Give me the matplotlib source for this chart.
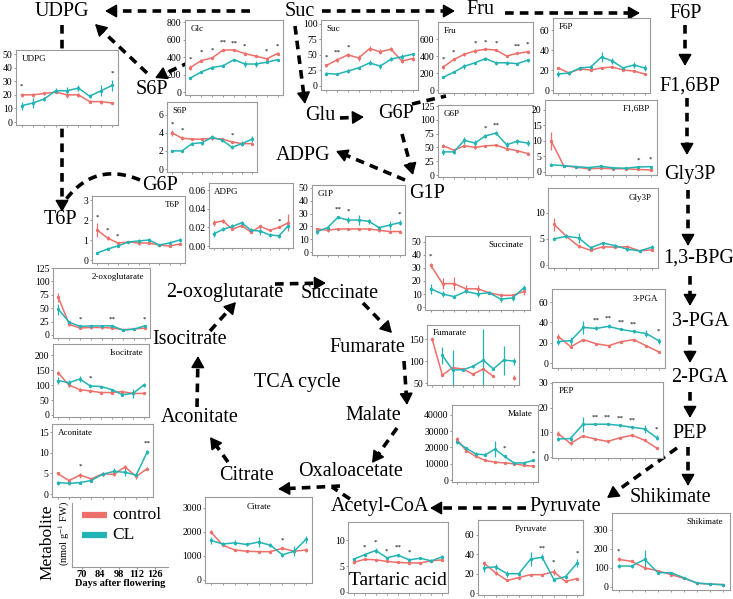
import numpy as np
import matplotlib.pyplot as plt

W, H = 733, 599
RED = '#EE6F6A'
TEAL = '#22B4B4'

plt.rcParams['font.family'] = ['Liberation Serif', 'DejaVu Serif']
plt.rcParams['mathtext.fontset'] = 'stix'

# --- data: 9 sampling dates (70..126 days after flowering), control vs CL ---
days = [70, 77, 84, 91, 98, 105, 112, 119, 126]

udpg_ctrl = [20, 20, 21, 22, 20, 20, 15, 15, 14]
udpg_cl = [12, 14, 17, 23, 23, 25, 19, 23, 27]
udpg_ctrl_err = [1.5, 1.5, 1, 1, 2, 1.5, 1, 1.5, 1]
udpg_cl_err = [3, 4, 1.5, 2, 3, 2, 1.5, 4, 4]
udpg_stars = [(0, '*'), (8, '*')]

glc_ctrl = [280, 360, 390, 480, 480, 440, 410, 380, 440]
glc_cl = [160, 230, 280, 300, 370, 320, 320, 340, 370]
glc_ctrl_err = [25, 20, 15, 15, 10, 15, 10, 10, 15]
glc_cl_err = [15, 15, 20, 15, 10, 30, 30, 10, 10]
glc_stars = [(0, '*'), (1, '*'), (2, '*'), (3, '**'), (4, '**'), (5, '*'), (7, '*'), (8, '*')]

suc_ctrl = [33, 42, 50, 45, 60, 55, 59, 40, 44]
suc_cl = [20, 19, 24, 29, 37, 32, 43, 47, 51]
suc_ctrl_err = [3, 3, 3, 5, 4, 4, 3, 3, 4]
suc_cl_err = [2, 1, 3, 2, 4, 4, 3, 5, 2]
suc_stars = [(0, '*'), (1, '**'), (2, '*')]

fru_ctrl = [270, 360, 420, 460, 480, 470, 400, 430, 450]
fru_cl = [150, 210, 280, 320, 370, 320, 320, 310, 350]
fru_ctrl_err = [25, 20, 15, 25, 10, 10, 15, 10, 15]
fru_cl_err = [10, 10, 30, 15, 15, 25, 20, 10, 15]
fru_stars = [(0, '*'), (1, '*'), (3, '*'), (4, '*'), (5, '*'), (7, '**'), (8, '*')]

f6p_ctrl = [22, 17, 21, 20, 22, 23, 20, 19, 16]
f6p_cl = [16, 17, 22, 23, 33, 29, 22, 25, 22]
f6p_ctrl_err = [1, 1, 1, 1, 1, 1, 1, 1, 1]
f6p_cl_err = [3, 2, 1, 2, 5, 3, 1, 3, 3]

s6p_ctrl = [4.0, 3.4, 3.3, 3.3, 3.4, 3.3, 3.0, 2.8, 2.8]
s6p_cl = [2.0, 2.0, 2.8, 2.9, 3.5, 3.2, 2.4, 2.8, 3.3]
s6p_ctrl_err = [0.3, 0.2, 0.1, 0.1, 0.1, 0.1, 0.1, 0.1, 0.1]
s6p_cl_err = [0.1, 0.1, 0.2, 0.2, 0.3, 0.2, 0.2, 0.3, 0.3]
s6p_stars = [(0, '*'), (1, '*'), (6, '*')]

g6p_ctrl = [53, 45, 53, 50, 53, 54, 48, 44, 39]
g6p_cl = [42, 42, 63, 58, 71, 76, 55, 61, 58]
g6p_ctrl_err = [3, 2, 3, 2, 2, 2, 2, 2, 2]
g6p_cl_err = [5, 4, 6, 5, 3, 3, 4, 5, 6]
g6p_stars = [(4, '*'), (5, '**')]

f16bp_ctrl = [10, 2, 1.5, 1.0, 1.2, 1.0, 1.0, 0.8, 0.6]
f16bp_cl = [2.3, 2.0, 1.7, 1.4, 1.8, 1.3, 1.2, 1.6, 1.7]
f16bp_ctrl_err = [3, 0.3, 0.2, 0.2, 0.2, 0.2, 0.2, 0.2, 0.2]
f16bp_cl_err = [0.5, 0.3, 0.3, 0.3, 0.5, 0.3, 0.2, 0.3, 0.3]
f16bp_stars = [(7, '*'), (8, '*')]

gly3p_ctrl = [7.8, 5.5, 3.6, 2.8, 3.5, 3.4, 3.5, 2.7, 2.9]
gly3p_cl = [5.0, 5.5, 5.2, 3.3, 4.2, 3.7, 3.0, 2.7, 3.4]
gly3p_ctrl_err = [1.2, 0.3, 0.3, 0.2, 0.3, 0.2, 0.3, 0.2, 0.2]
gly3p_cl_err = [0.3, 0.4, 0.9, 0.3, 0.3, 0.3, 0.3, 0.2, 0.5]

t6p_ctrl = [1.5, 1.1, 0.85, 0.9, 0.85, 0.85, 0.75, 0.7, 0.8]
t6p_cl = [0.35, 0.55, 0.7, 0.9, 0.95, 1.0, 0.75, 0.85, 1.0]
t6p_ctrl_err = [0.35, 0.1, 0.05, 0.05, 0.1, 0.05, 0.05, 0.05, 0.05]
t6p_cl_err = [0.05, 0.05, 0.05, 0.05, 0.1, 0.1, 0.05, 0.1, 0.1]
t6p_stars = [(0, '*'), (1, '*'), (2, '*')]

adpg_ctrl = [0.025, 0.027, 0.018, 0.022, 0.015, 0.021, 0.017, 0.020, 0.025]
adpg_cl = [0.013, 0.018, 0.021, 0.025, 0.017, 0.016, 0.012, 0.011, 0.022]
adpg_ctrl_err = [0.003, 0.002, 0.001, 0.001, 0.001, 0.002, 0.001, 0.001, 0.009]
adpg_cl_err = [0.003, 0.002, 0.003, 0.002, 0.002, 0.004, 0.002, 0.002, 0.004]
adpg_stars = [(7, '*')]

g1p_ctrl = [18, 17, 18, 18, 18, 18, 17, 16, 16]
g1p_cl = [16, 19, 27, 25, 25, 24, 19, 21, 23]
g1p_ctrl_err = [1, 1, 1, 1, 1, 1, 1, 1.5, 1]
g1p_cl_err = [2, 1, 1.5, 2, 4, 2, 1.5, 3, 2]
g1p_stars = [(2, '**'), (3, '*'), (8, '*')]

succ_ctrl = [32, 18, 18, 14, 14, 11, 9, 9, 12]
succ_cl = [14, 10, 8, 12, 10, 11, 6, 7, 15]
succ_ctrl_err = [2, 4, 5, 3, 3, 1, 1, 1, 3]
succ_cl_err = [4, 2, 1, 1, 2, 1, 2, 2, 2]
succ_stars = [(0, '*')]

fum_ctrl = [150, 68, 85, 82, 70, 82, 65, np.nan, 62]
fum_cl = [np.nan, 113, 80, 80, 88, 102, 82, 102, 100]
fum_ctrl_err = [2, 2, 3, 2, 2, 2, 2, 0, 6]
fum_cl_err = [0, 20, 45, 3, 3, 70, 3, 33, 8]

pga_ctrl = [26, 16, 23, 19, 17, 21, 23, 17, 11]
pga_cl = [21, 22, 35, 34, 36, 33, 31, 29, 22]
pga_ctrl_err = [3, 1, 1, 1, 1, 1, 1, 1, 1]
pga_cl_err = [3, 4, 6, 2, 2, 1, 1, 3, 3]
pga_stars = [(3, '**'), (4, '**'), (5, '**'), (6, '**'), (8, '*')]

pep_ctrl = [9.5, 5.5, 8.5, 7.3, 6.3, 7.8, 8.8, 6.8, 3.6]
pep_cl = [7.3, 7.5, 13.2, 13.3, 13.3, 12.8, 12.0, 11.4, 7.8]
pep_ctrl_err = [1, 0.5, 0.5, 0.5, 0.5, 0.5, 0.5, 0.5, 0.3]
pep_cl_err = [1, 1, 3, 0.5, 0.5, 0.5, 0.5, 1.5, 1]
pep_stars = [(3, '**'), (4, '**'), (5, '**'), (6, '**'), (8, '*')]

mal_ctrl = [25000, 18000, 14500, 12000, 11000, 10500, 10000, 9000, 8500]
mal_cl = [23500, 19500, 16000, 15500, 19000, 14500, 10500, 10500, 12000]
mal_ctrl_err = [1500, 1000, 500, 500, 500, 500, 500, 500, 500]
mal_cl_err = [1500, 1000, 1000, 1000, 5000, 1000, 500, 500, 500]
mal_stars = [(5, '*'), (8, '*')]

shik_ctrl = [145, 135, 100, 85, 65, 45, 20, 15, 12]
shik_cl = [110, 110, 145, 75, 75, 48, 20, 15, 12]
shik_ctrl_err = [10, 5, 5, 5, 5, 5, 3, 3, 3]
shik_cl_err = [10, 8, 50, 8, 5, 5, 3, 3, 3]
shik_stars = [(0, '*')]

pyr_ctrl = [31, 21, 13, 16, 19, 19, 22, 12, 15]
pyr_cl = [26, 27, 20, 20, 35, 37, 14, 17, 31]
pyr_ctrl_err = [2, 2, 1, 1, 1, 1, 3, 1, 1]
pyr_cl_err = [4, 3, 3, 2, 7, 3, 2, 2, 4]
pyr_stars = [(5, '**'), (6, '*'), (8, '*')]

tar_ctrl = [5.7, 6.3, 6.2, 5.9, 5.7, 5.6, 5.6, 6.0, 6.2]
tar_cl = [6.3, 7.2, 8.0, 6.6, 7.1, 6.2, 6.5, 6.0, 6.8]
tar_ctrl_err = [0.4, 0.2, 0.2, 0.2, 0.2, 0.2, 0.2, 0.2, 0.2]
tar_cl_err = [0.3, 0.3, 0.4, 0.2, 0.3, 0.3, 0.2, 0.3, 0.3]
tar_stars = [(1, '*'), (2, '*'), (3, '*'), (4, '**'), (5, '*')]

cit_ctrl = [2000, 1450, 1250, 1200, 1180, 1180, 1320, 1200, 1250]
cit_cl = [1650, 1500, 1550, 1480, 1580, 1450, 1050, 1200, 1700]
cit_ctrl_err = [100, 50, 50, 50, 50, 50, 50, 50, 100]
cit_cl_err = [150, 100, 100, 80, 200, 80, 80, 200, 150]
cit_stars = [(6, '*')]

oxo_ctrl = [70, 20, 13, 14, 14, 13, 10, 11, 13]
oxo_cl = [48, 24, 16, 17, 17, 17, 9, 11, 17]
oxo_ctrl_err = [8, 3, 2, 2, 2, 2, 1, 1, 2]
oxo_cl_err = [10, 2, 2, 1, 1, 1, 1, 1, 2]
oxo_stars = [(2, '*'), (5, '**'), (8, '*')]

iso_ctrl = [140, 100, 85, 80, 75, 75, 78, 72, 72]
iso_cl = [115, 108, 120, 97, 95, 85, 68, 72, 100]
iso_ctrl_err = [8, 5, 4, 4, 5, 5, 4, 4, 3]
iso_cl_err = [12, 10, 10, 5, 3, 3, 5, 15, 8]
iso_stars = [(3, '*')]

aco_ctrl = [5.0, 3.3, 4.6, 3.7, 4.9, 4.8, 6.6, 4.3, 6.2]
aco_cl = [2.8, 2.6, 2.8, 3.3, 4.8, 5.5, 5.3, 4.6, 10.3]
aco_ctrl_err = [0.4, 0.3, 0.6, 0.3, 0.4, 0.4, 0.5, 0.6, 0.3]
aco_cl_err = [0.5, 0.3, 0.3, 0.3, 0.5, 0.8, 1, 0.5, 0.5]
aco_stars = [(2, '*'), (8, '**')]

legend_days = [70, 84, 98, 112, 126]

fig = plt.figure(figsize=(W / 100, H / 100), dpi=100)
bg = fig.add_axes([0, 0, 1, 1])
bg.set_xlim(0, W)
bg.set_ylim(H, 0)
bg.axis('off')
bg.set_zorder(0)


def px_axes(x0, y0, x1, y1):
    return fig.add_axes([x0 / W, 1 - y1 / H, (x1 - x0) / W, (y1 - y0) / H])


def arrow(x0, y0, x1, y1, head=True):
    dx, dy = x1 - x0, y1 - y0
    n = np.hypot(dx, dy)
    ux, uy = dx / n, dy / n
    xe, ye = (x1 - ux * 6, y1 - uy * 6) if head else (x1, y1)
    bg.plot([x0, xe], [y0, ye], color='k', lw=2.6, ls=(0, (2.4, 1.7)),
            dash_capstyle='butt', solid_capstyle='butt')
    if head:
        bg.annotate('', xy=(x1, y1), xytext=(x1 - ux * 8, y1 - uy * 8),
                    arrowprops=dict(arrowstyle='-|>,head_length=0.7,head_width=0.4',
                                    color='k', lw=1.2, shrinkA=0, shrinkB=0,
                                    mutation_scale=10))


def curve(p0, pc, p1):
    t = np.linspace(0, 1, 40)[:, None]
    pts = (1 - t) ** 2 * np.array(p0) + 2 * (1 - t) * t * np.array(pc) + t ** 2 * np.array(p1)
    bg.plot(pts[:, 0], pts[:, 1], color='k', lw=2.6, ls=(0, (2.4, 1.7)), dash_capstyle='butt')


def panel(box, ctrl, cl, ctrl_err, cl_err, ylim, yticks, title, where='left',
          stars=(), ylabels=None, title_size=6.5):
    ax = px_axes(*box)
    ax.set_zorder(2)
    x = np.arange(len(ctrl))
    for y, e, c in ((ctrl, ctrl_err, RED), (cl, cl_err, TEAL)):
        ax.errorbar(x, y, yerr=e, color=c, lw=1.1, elinewidth=0.9, marker='o',
                    ms=1.4, capsize=0)
    ax.set_xlim(-0.5, len(ctrl) - 0.5)
    ax.set_ylim(ylim)
    ax.set_xticks(x)
    ax.set_xticklabels([])
    ax.set_yticks(yticks)
    if ylabels is not None:
        ax.set_yticklabels(ylabels)
    ax.tick_params(length=1.5, width=0.6, color='#888', labelsize=7, pad=1)
    for s in ax.spines.values():
        s.set_color('#9a9a9a')
        s.set_linewidth(0.8)
    if where == 'left':
        ax.text(0.06, 0.93, title, transform=ax.transAxes, ha='left', va='top', fontsize=title_size)
    elif where == 'right':
        ax.text(0.94, 0.93, title, transform=ax.transAxes, ha='right', va='top', fontsize=title_size)
    elif where == 'center':
        ax.text(0.5, 0.93, title, transform=ax.transAxes, ha='center', va='top', fontsize=title_size)
    else:
        ax.text(0.5, 0.05, title, transform=ax.transAxes, ha='center', va='bottom', fontsize=14)
    span = ylim[1] - ylim[0]
    for i, s in stars:
        top = np.nanmax([ctrl[i] + ctrl_err[i], cl[i] + cl_err[i]])
        ax.text(i, top + 0.05 * span, s, ha='center', va='bottom', fontsize=5)
    return ax


# --- pathway arrows (drawn first, panels cover them) ---
arrow(250, 11, 105, 11)            # Suc -> UDPG
arrow(322, 11, 455, 11)            # Suc -> Fru
arrow(505, 13, 640, 13)            # Fru -> F6P
arrow(685, 25, 685, 66)            # F6P -> F1,6BP
arrow(687, 98, 687, 155)           # F1,6BP -> Gly3P
arrow(688, 190, 688, 246)          # Gly3P -> 1,3-BPG
arrow(690, 276, 690, 306)          # 1,3-BPG -> 3-PGA
arrow(690, 336, 690, 363)          # 3-PGA -> 2-PGA
arrow(690, 392, 690, 418)          # 2-PGA -> PEP
arrow(688, 447, 688, 486)          # PEP -> Shikimate
arrow(677, 448, 607, 498)          # PEP -> Pyruvate
arrow(526, 508, 430, 508)          # Pyruvate -> Acetyl-CoA
arrow(350, 499, 332, 487, head=False)
arrow(340, 486, 278, 489)          # -> Citrate
arrow(397, 428, 372, 463)          # Malate -> Oxaloacetate
arrow(404, 361, 407, 405)          # Fumarate -> Malate
arrow(363, 303, 392, 333)          # Succinate -> Fumarate
arrow(275, 284, 326, 283)          # 2-oxoglutarate -> Succinate
arrow(210, 331, 236, 302)          # Isocitrate -> 2-oxoglutarate
arrow(197, 407, 198, 356)          # Aconitate -> Isocitrate
arrow(228, 462, 210, 437)          # Citrate -> Aconitate
arrow(295, 26, 305, 104)           # Suc -> Glu
arrow(340, 118, 364, 117)          # Glu -> G6P
arrow(412, 104, 446, 96, head=False)
arrow(147, 73, 95, 24)             # S6P -> UDPG
arrow(190, 62, 155, 78)            # -> S6P
arrow(62, 25, 62, 212)             # UDPG -> T6P
curve((140, 180), (92, 160), (62, 205))   # G6P -> T6P
arrow(402, 134, 413, 175)          # G6P -> G1P
arrow(405, 180, 336, 151)          # G1P -> ADPG

# --- pathway labels ---
labels = [
    ('UDPG', 62, 11), ('Suc', 300, 11), ('Fru', 480, 10), ('F6P', 686, 14),
    ('F1,6BP', 690, 86), ('S6P', 152, 90), ('Glu', 320, 115), ('G6P', 396, 114),
    ('ADPG', 303, 155), ('G1P', 427, 193), ('G6P', 160, 185), ('T6P', 60, 220),
    ('Gly3P', 690, 175), ('1,3-BPG', 699, 258), ('3-PGA', 700, 321),
    ('2-PGA', 700, 378), ('PEP', 690, 433), ('Shikimate', 670, 498),
    ('Pyruvate', 565, 507), ('Acetyl-CoA', 380, 506), ('Oxaloacetate', 351, 472),
    ('Citrate', 247, 475), ('Aconitate', 200, 418), ('Isocitrate', 190, 340),
    ('2-oxoglutarate', 225, 292), ('Succinate', 340, 293), ('Fumarate', 367, 347),
    ('TCA cycle', 297, 383), ('Malate', 373, 416),
]
for txt, x, y in labels:
    bg.text(x, y, txt, ha='center', va='center', fontsize=14.5, zorder=3)

# --- metabolite panels (pixel boxes: x0, y0, x1, y1) ---
panel((16, 50, 118, 125), udpg_ctrl, udpg_cl, udpg_ctrl_err, udpg_cl_err, (-2.2, 53),
      [0, 10, 20, 30, 40, 50], 'UDPG', 'left', udpg_stars)
panel((185, 20, 283, 95), glc_ctrl, glc_cl, glc_ctrl_err, glc_cl_err, (-34, 823),
      [0, 200, 400, 600, 800], 'Glc', 'left', glc_stars)
panel((321, 20, 418, 90), suc_ctrl, suc_cl, suc_ctrl_err, suc_cl_err, (-6.5, 106),
      [0, 25, 50, 75, 100], 'Suc', 'left', suc_stars)
panel((438, 22, 533, 93), fru_ctrl, fru_cl, fru_ctrl_err, fru_cl_err, (-35, 800),
      [0, 200, 400, 600], 'Fru', 'left', fru_stars)
panel((553, 18, 650, 93), f6p_ctrl, f6p_cl, f6p_ctrl_err, f6p_cl_err, (-3, 72),
      [0, 20, 40, 60], 'F6P', 'left')
panel((167, 102, 257, 172), s6p_ctrl, s6p_cl, s6p_ctrl_err, s6p_cl_err, (-0.33, 7.4),
      [0, 2, 4, 6], 'S6P', 'left', s6p_stars)
panel((438, 105, 533, 177), g6p_ctrl, g6p_cl, g6p_ctrl_err, g6p_cl_err, (-3.6, 127),
      [0, 25, 50, 75, 100, 125], 'G6P', 'left', g6p_stars)
panel((545, 100, 657, 175), f16bp_ctrl, f16bp_cl, f16bp_ctrl_err, f16bp_cl_err, (-1, 23.2),
      [0, 5, 10, 15, 20], 'F1,6BP', 'right', f16bp_stars)
panel((548, 188, 658, 268), gly3p_ctrl, gly3p_cl, gly3p_ctrl_err, gly3p_cl_err, (-0.6, 14.8),
      [0, 5, 10], 'Gly3P', 'right')
panel((92, 196, 185, 263), t6p_ctrl, t6p_cl, t6p_ctrl_err, t6p_cl_err, (-0.15, 3.2),
      [0, 1, 2, 3], 'T6P', 'right', t6p_stars)
panel((209, 183, 293, 248), adpg_ctrl, adpg_cl, adpg_ctrl_err, adpg_cl_err, (-0.002, 0.0675),
      [0, 0.02, 0.04, 0.06], 'ADPG', 'left', adpg_stars,
      ylabels=['0.00', '0.02', '0.04', '0.06'])
panel((312, 185, 405, 255), g1p_ctrl, g1p_cl, g1p_ctrl_err, g1p_cl_err, (-2.3, 52.3),
      [0, 10, 20, 30, 40, 50], 'G1P', 'left', g1p_stars)
panel((425, 236, 530, 310), succ_ctrl, succ_cl, succ_ctrl_err, succ_cl_err, (-2.3, 54.6),
      [0, 10, 20, 30, 40, 50], 'Succinate', 'right', succ_stars)
panel((427, 325, 519, 385), fum_ctrl, fum_cl, fum_ctrl_err, fum_cl_err, (45.5, 182),
      [50, 100, 150], 'Fumarate', 'left')
panel((552, 289, 665, 368), pga_ctrl, pga_cl, pga_ctrl_err, pga_cl_err, (-4.9, 72.8),
      [0, 20, 40, 60], '3-PGA', 'right', pga_stars)
panel((552, 382, 663, 458), pep_ctrl, pep_cl, pep_ctrl_err, pep_cl_err, (-0.4, 30.4),
      [0, 10, 20, 30], 'PEP', 'left', pep_stars)
panel((452, 405, 538, 482), mal_ctrl, mal_cl, mal_ctrl_err, mal_cl_err, (-1230, 46150),
      [0, 10000, 20000, 30000, 40000], 'Malate', 'right', mal_stars)
panel((612, 513, 730, 590), shik_ctrl, shik_cl, shik_ctrl_err, shik_cl_err, (-16, 389),
      [0, 100, 200, 300], 'Shikimate', 'right', shik_stars)
panel((478, 520, 583, 595), pyr_ctrl, pyr_cl, pyr_ctrl_err, pyr_cl_err, (-2, 75.5),
      [0, 20, 40, 60], 'Pyruvate', 'center', pyr_stars)
panel((348, 522, 448, 593), tar_ctrl, tar_cl, tar_ctrl_err, tar_cl_err, (-0.2, 13.5),
      [0, 5, 10], 'Tartaric acid', 'bottom', tar_stars)
panel((205, 497, 312, 583), cit_ctrl, cit_cl, cit_ctrl_err, cit_cl_err, (-125, 3458),
      [0, 1000, 2000, 3000], 'Citrate', 'center', cit_stars)
panel((53, 268, 150, 338), oxo_ctrl, oxo_cl, oxo_ctrl_err, oxo_cl_err, (-5.6, 125),
      [0, 25, 50, 75, 100, 125], '2-oxoglutarate', 'right', oxo_stars)
panel((53, 344, 149, 417), iso_ctrl, iso_cl, iso_ctrl_err, iso_cl_err, (-6.7, 237),
      [0, 50, 100, 150, 200], 'Isocitrate', 'right', iso_stars)
panel((52, 424, 153, 497), aco_ctrl, aco_cl, aco_ctrl_err, aco_cl_err, (-0.7, 17),
      [0, 5, 10, 15], 'Aconitate', 'left', aco_stars)

# --- legend / axis key ---
lax = px_axes(72, 503, 168, 567)
lax.set_zorder(2)
lax.patch.set_alpha(0)
lax.set_xlim(62.3, 136)
lax.set_xticks(legend_days)
lax.set_xticklabels([str(d) for d in legend_days], fontsize=7.5, fontweight='bold')
lax.set_yticks([])
lax.tick_params(length=1.5, pad=1, color='#888')
for side in ('top', 'right'):
    lax.spines[side].set_visible(False)
for side in ('left', 'bottom'):
    lax.spines[side].set_color('#9a9a9a')
    lax.spines[side].set_linewidth(0.8)
lax.set_xlabel('Days after flowering', fontsize=7.5, fontweight='bold', labelpad=0)

bg.plot([82, 107], [515, 515], color=RED, lw=4.5, solid_capstyle='butt')
bg.plot([82, 107], [535, 535], color=TEAL, lw=4.5, solid_capstyle='butt')
bg.text(112, 515, 'control', ha='left', va='center', fontsize=12.5)
bg.text(112, 535, 'CL', ha='left', va='center', fontsize=12.5)
bg.text(47, 542, 'Metabolite', rotation=90, ha='center', va='center', fontsize=12.5)
bg.text(64, 534, '(nmol g$^{-1}$ FW)', rotation=90, ha='center', va='center', fontsize=7.5)

fig.savefig('out.png', dpi=100)
